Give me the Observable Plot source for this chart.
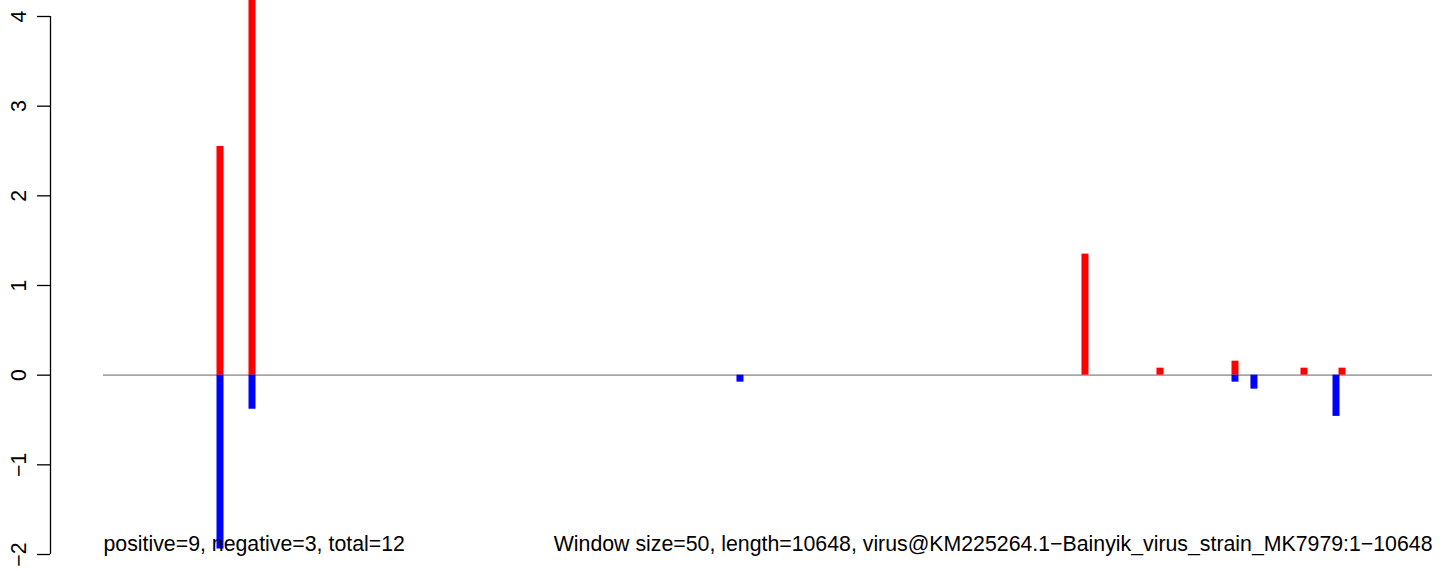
<!DOCTYPE html>
<html>
<head>
<meta charset="utf-8">
<script src="https://cdn.jsdelivr.net/npm/d3@7"></script>
<script src="https://cdn.jsdelivr.net/npm/@observablehq/plot@0.6"></script>
<style>
  html, body { margin: 0; padding: 0; background: white; }
  #chart { width: 1444px; height: 571px; overflow: hidden; }
</style>
</head>
<body>
<div id="chart"></div>
<script>
// Sequence length and window
const seqLength = 10648;

// Positive (red) bars: positions and heights
const posX = [583, 860, 8067, 8716, 9365, 9962, 10291];
const posY = [2.55, 4.3, 1.35, 0.078, 0.156, 0.078, 0.078];

// Negative (blue) bars: positions and heights
const negX = [583, 860, 5082, 9365, 9529, 10239];
const negY = [-1.94, -0.38, -0.078, -0.078, -0.156, -0.46];

// Y tick values
const yTicks = [-2, -1, 0, 1, 2, 3, 4];

// Footer texts
const leftText = "positive=9, negative=3, total=12";
const rightText = "Window size=50, length=10648, virus@KM225264.1\u2212Bainyik_virus_strain_MK7979:1\u221210648";

const pos = posX.map((x, i) => ({x, y: posY[i]}));
const neg = negX.map((x, i) => ({x, y: negY[i]}));

const pad = 0.04 * (seqLength - 1);
const xDomain = [1 - pad, seqLength + pad];
const FS = 21.3;

const chart = Plot.plot({
  width: 1444,
  height: 571,
  marginLeft: 103,
  marginRight: 12,
  marginTop: 16,
  marginBottom: 17,
  style: {fontFamily: "'Liberation Sans', Arial, sans-serif", fontSize: FS + "px", overflow: "hidden", background: "white"},
  x: {domain: xDomain, axis: null},
  y: {domain: [-2, 4], axis: null},
  marks: [
    Plot.ruleY([0], {stroke: "#a6a6a6", strokeWidth: 1.6}),
    Plot.ruleX(pos, {x: "x", y1: 0, y2: "y", stroke: "#ff0000", strokeWidth: 7, strokeLinecap: "butt"}),
    Plot.ruleX(neg, {x: "x", y1: 0, y2: "y", stroke: "#0000ff", strokeWidth: 7, strokeLinecap: "butt"}),
    Plot.ruleX([xDomain[0]], {y1: -2, y2: 4, dx: -53, stroke: "black", strokeWidth: 1.3}),
    Plot.axisY({ticks: yTicks, label: null, tickSize: 13, tickPadding: 12, tickRotate: -90, dx: -53, fontSize: FS, stroke: "black", strokeWidth: 1.3, fill: "black",
      tickFormat: d => d < 0 ? "\u2212" + (-d) : String(d)}),
    Plot.text([leftText], {frameAnchor: "bottom-left", text: d => d, textAnchor: "start", lineAnchor: "bottom", dy: -4, fontSize: FS, fill: "black"}),
    Plot.text([rightText], {frameAnchor: "bottom-right", text: d => d, textAnchor: "end", lineAnchor: "bottom", dy: -4, fontSize: FS, fill: "black"})
  ]
});
document.getElementById("chart").appendChild(chart);
</script>
</body>
</html>
